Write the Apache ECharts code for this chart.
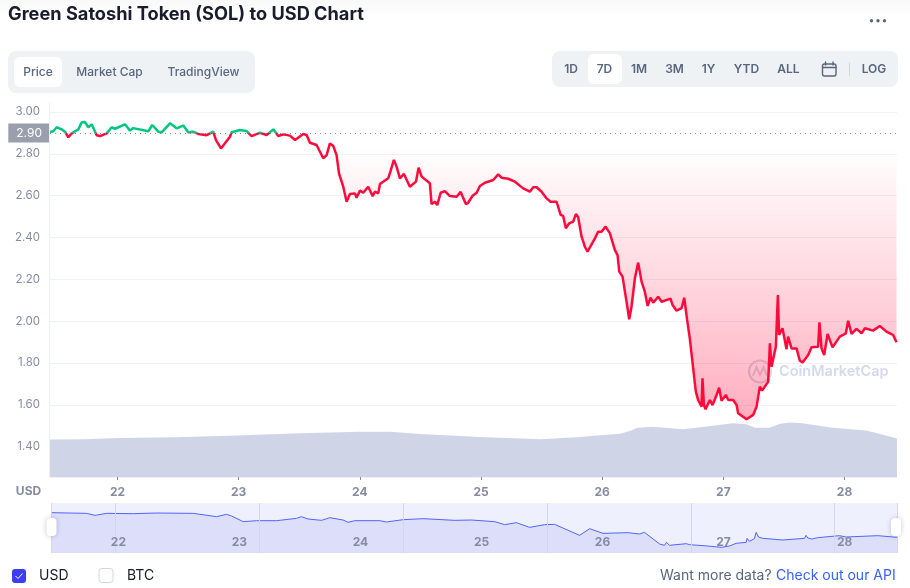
<!DOCTYPE html>
<html>
<head>
<meta charset="utf-8">
<title>Green Satoshi Token (SOL) to USD Chart</title>
<script src="https://cdn.jsdelivr.net/npm/echarts@6/dist/echarts.min.js"></script>
<style>
html, body { margin: 0; padding: 0; background: #fff; }
#main { width: 910px; height: 588px; }
</style>
</head>
<body>
<div id="main"></div>
<script>
// main line, day of month and price
var priceDays = [21.443,21.470,21.498,21.540,21.567,21.594,21.622,21.677,21.705,21.732,21.759,21.787,21.800,21.828,21.856,21.911,21.952,21.979,22.062,22.103,22.130,22.254,22.287,22.337,22.365,22.433,22.488,22.543,22.584,22.625,22.667,22.736,22.790,22.813,22.854,22.928,22.942,23.011,23.066,23.107,23.176,23.231,23.286,23.327,23.368,23.423,23.465,23.533,23.561,23.588,23.643,23.698,23.726,23.753,23.781,23.808,23.828,23.863,23.891,23.918,23.960,23.973,24.001,24.028,24.069,24.106,24.125,24.152,24.166,24.234,24.254,24.281,24.303,24.331,24.364,24.413,24.463,24.485,24.510,24.578,24.592,24.620,24.639,24.667,24.702,24.743,24.799,24.832,24.875,24.894,24.931,24.964,24.991,25.032,25.101,25.142,25.170,25.224,25.280,25.348,25.403,25.431,25.459,25.500,25.541,25.574,25.624,25.657,25.678,25.700,25.728,25.761,25.783,25.802,25.830,25.857,25.879,25.940,25.967,25.995,26.028,26.064,26.105,26.127,26.141,26.168,26.201,26.223,26.242,26.270,26.297,26.325,26.352,26.375,26.399,26.421,26.462,26.490,26.564,26.581,26.614,26.655,26.677,26.701,26.723,26.737,26.765,26.773,26.792,26.820,26.828,26.839,26.853,26.889,26.911,26.944,26.965,26.985,27.021,27.040,27.081,27.109,27.122,27.191,27.246,27.274,27.301,27.320,27.370,27.384,27.398,27.433,27.450,27.460,27.488,27.521,27.534,27.563,27.604,27.631,27.654,27.700,27.728,27.782,27.793,27.810,27.832,27.860,27.901,27.961,28.011,28.030,28.058,28.099,28.141,28.168,28.236,28.291,28.346,28.401,28.429];
var priceValues = [2.904,2.908,2.927,2.917,2.906,2.879,2.898,2.917,2.951,2.952,2.927,2.941,2.941,2.889,2.885,2.898,2.927,2.920,2.941,2.911,2.923,2.908,2.938,2.906,2.903,2.946,2.922,2.935,2.903,2.906,2.895,2.889,2.906,2.866,2.826,2.882,2.903,2.914,2.909,2.885,2.901,2.890,2.917,2.885,2.893,2.887,2.866,2.895,2.890,2.853,2.842,2.779,2.794,2.850,2.837,2.794,2.707,2.643,2.571,2.608,2.611,2.590,2.624,2.614,2.643,2.598,2.619,2.611,2.656,2.683,2.719,2.771,2.739,2.683,2.704,2.643,2.667,2.734,2.691,2.659,2.560,2.571,2.555,2.614,2.622,2.598,2.595,2.618,2.560,2.566,2.600,2.614,2.646,2.662,2.675,2.702,2.686,2.681,2.667,2.635,2.619,2.640,2.640,2.619,2.587,2.571,2.571,2.508,2.503,2.444,2.468,2.476,2.512,2.497,2.404,2.356,2.332,2.396,2.428,2.428,2.452,2.420,2.340,2.316,2.237,2.213,2.093,2.009,2.069,2.205,2.280,2.189,2.141,2.073,2.113,2.088,2.117,2.093,2.108,2.077,2.050,2.062,2.112,2.006,1.918,1.910,1.703,1.663,1.623,1.591,1.727,1.599,1.579,1.623,1.599,1.647,1.682,1.620,1.647,1.623,1.623,1.599,1.560,1.531,1.552,1.591,1.687,1.668,1.711,1.894,1.782,1.878,2.125,1.934,1.966,1.866,1.926,1.870,1.870,1.811,1.803,1.838,1.875,1.878,1.995,1.870,1.838,1.939,1.875,1.926,1.942,2.002,1.939,1.963,1.942,1.966,1.955,1.977,1.950,1.934,1.899];
// volume band, no scale on the picture so just relative units
var volumeDays = [21.443,21.73,22.02,22.47,22.93,23.22,23.51,24.00,24.25,24.50,24.99,25.49,25.82,25.98,26.15,26.24,26.29,26.42,26.67,26.81,27.08,27.19,27.26,27.38,27.47,27.55,27.65,27.90,28.18,28.31,28.433];
var volumeValues = [10.3,10.4,10.7,10.9,11.3,11.7,12.0,12.4,12.4,11.8,11.0,10.4,11.0,11.5,11.9,12.8,13.5,13.8,13.1,13.7,14.8,14.5,13.5,13.5,14.6,15.0,14.8,13.5,12.8,11.7,10.6];
// overview strip line, it runs on its own day scale
var miniDays = [21.553,21.801,21.859,21.940,22.125,22.287,22.542,22.704,22.773,22.808,22.889,22.981,23.120,23.259,23.294,23.340,23.433,23.491,23.583,23.618,23.664,23.838,23.884,24.000,24.139,24.359,24.475,24.637,24.706,24.787,24.880,24.984,25.053,25.227,25.297,25.389,25.563,25.644,25.678,25.783,25.817,25.831,25.852,25.968,25.991,26.118,26.211,26.269,26.315,26.385,26.391,26.408,26.442,26.454,26.470,26.500,26.639,26.790,26.801,26.813,26.840,26.882,27.033,27.079,27.299,27.433];
var miniValues = [2.926,2.898,2.817,2.898,2.885,2.912,2.898,2.763,2.858,2.790,2.560,2.600,2.600,2.695,2.763,2.668,2.614,2.722,2.627,2.533,2.600,2.600,2.546,2.641,2.682,2.614,2.627,2.560,2.438,2.519,2.329,2.438,2.451,2.004,2.275,2.085,2.113,2.058,2.126,1.652,1.598,1.720,1.598,1.665,1.625,1.571,1.516,1.571,1.679,1.720,1.882,1.760,1.869,2.126,1.936,1.882,1.814,1.882,2.004,1.896,1.855,1.909,1.991,1.936,1.991,1.923];
var dayTicks = [22,23,24,25,26,27,28];
var miniSeparators = [22,23,24,25,26,27];
var basePrice = 2.9;
var tabLabels = ['Price','Market Cap','TradingView'];
var rangeLabels = ['1D','7D','1M','3M','1Y','YTD','ALL','LOG'];

var FONT = 'Inter, "Noto Sans", sans-serif';
var GREY = '#858ca2';
var SLATE = '#58667e';
var BLUE = '#3861fb';

function txt(x, y, text, size, weight, color, align) {
	return {
		type: 'text', x: x, y: y, z: 10,
		style: { text: text, fontFamily: FONT, fontSize: size, fontWeight: weight, fill: color, align: align || 'center', verticalAlign: 'middle' }
	};
}
function box(x, y, w, h, r, fill) {
	return { type: 'rect', z: 1, shape: { x: x, y: y, width: w, height: h, r: r }, style: { fill: fill } };
}
function dot(x, y) {
	return { type: 'circle', z: 10, shape: { cx: x, cy: y, r: 1.7 }, style: { fill: SLATE } };
}
function seg(x1, y1, x2, y2, color, width) {
	return { type: 'line', z: 10, shape: { x1: x1, y1: y1, x2: x2, y2: y2 }, style: { stroke: color, lineWidth: width || 1, lineCap: 'round' } };
}
// little white drag handle of the overview strip
function handle(x) {
	return [
		{ type: 'rect', z: 20, shape: { x: x, y: 518, width: 10, height: 18, r: 4 }, style: { fill: '#fff', shadowBlur: 5, shadowColor: 'rgba(80,90,130,.35)' } },
		seg(x + 4, 524, x + 4, 530, '#b4b9c9'),
		seg(x + 6, 524, x + 6, 530, '#b4b9c9')
	];
}

var tabCenters = [38, 109.5, 203.5];
var rangeCenters = [571, 604.5, 639, 674.5, 708.5, 746.5, 788.5, 874];

var graphics = [
	{ type: 'rect', z: 0, shape: { x: 0, y: 0, width: 910, height: 15 }, style: { fill: new echarts.graphic.LinearGradient(0, 0, 0, 1, [{ offset: 0, color: '#f8f8f9' }, { offset: 1, color: '#fff' }]) } },
	txt(8, 15, 'Green Satoshi Token (SOL) to USD Chart', 18.2, 700, '#191d2b', 'left'),
	dot(871.5, 20.8), dot(878, 20.8), dot(884.5, 20.8),
	box(8, 51, 247, 42, 8, '#eff2f5'),
	box(14, 57, 48, 30, 6, '#fff'),
	box(552, 51, 346, 36, 8, '#eff2f5'),
	box(588, 54, 34, 30, 6, '#fff'),
	// calendar icon
	{ type: 'rect', z: 10, shape: { x: 822.5, y: 64, width: 13.5, height: 12, r: 2 }, style: { fill: 'none', stroke: SLATE, lineWidth: 1.4 } },
	seg(822.5, 67.5, 836, 67.5, SLATE, 1.4), seg(825.5, 62, 825.5, 65, SLATE, 1.4), seg(833, 62, 833, 65, SLATE, 1.4),
	seg(849.5, 63, 849.5, 76, '#cfd6e4'),
	// left axis rule runs the full height of the plot
	seg(49.5, 103, 49.5, 477, '#eff2f5'),
	txt(28.5, 491, 'USD', 12, 700, GREY),
	// watermark
	{ type: 'circle', z: 1, shape: { cx: 760, cy: 371.5, r: 11 }, style: { fill: 'none', stroke: '#d4daea', lineWidth: 2.2 } },
	{ type: 'polyline', z: 1, shape: { points: [[753, 376], [756.5, 367], [760, 375], [763.5, 367], [767, 376]] }, style: { fill: 'none', stroke: '#d4daea', lineWidth: 2 } },
	txt(779, 372, 'CoinMarketCap', 14.5, 600, '#d4daea', 'left'),
	// bottom row
	box(12, 569, 14, 14, 3, '#3d3df5'),
	{ type: 'polyline', z: 10, shape: { points: [[15.5, 576], [18, 578.5], [22.5, 573.5]] }, style: { fill: 'none', stroke: '#fff', lineWidth: 1 } },
	txt(39, 576, 'USD', 14, 400, '#191d2b', 'left'),
	{ type: 'rect', z: 1, shape: { x: 99, y: 568.5, width: 14, height: 14, r: 3 }, style: { fill: '#fff', stroke: '#cfd6e4' } },
	txt(127, 576, 'BTC', 14, 400, '#191d2b', 'left'),
	txt(660, 576, 'Want more data? ', 14, 400, SLATE, 'left'),
	txt(776, 576, 'Check out our API', 14, 400, BLUE, 'left')
];
tabLabels.forEach(function (t, i) {
	graphics.push(txt(tabCenters[i], 72, t, 12, 500, SLATE));
});
rangeLabels.forEach(function (t, i) {
	graphics.push(txt(rangeCenters[i], 69.8, t, 12, 600, SLATE));
});
graphics = graphics.concat(handle(46.5), handle(891));

function zip(a, b) {
	var out = [];
	for (var i = 0; i < a.length; i++) {
		out.push([a[i], b[i]]);
	}
	return out;
}

var xMin = 21.443;
var xMax = 28.433;

var option = {
	animation: false,
	backgroundColor: '#fff',
	textStyle: { fontFamily: FONT },
	graphic: graphics,
	grid: [
		{ left: 50, width: 847, top: 112, height: 334.7 },
		{ left: 50, width: 847, top: 404.2, height: 72.8 },
		{ left: 51, width: 846, top: 503, height: 50, show: true, backgroundColor: '#eff0fd', borderWidth: 0 }
	],
	xAxis: [
		{ type: 'value', gridIndex: 0, min: xMin, max: xMax, show: false },
		{
			type: 'value', gridIndex: 1, min: xMin, max: xMax,
			axisLine: { show: true, onZero: false, lineStyle: { color: '#eff2f5' } },
			axisTick: { show: true, customValues: dayTicks, length: 3, lineStyle: { color: GREY } },
			axisLabel: { customValues: dayTicks, color: GREY, fontSize: 12, fontWeight: 700, margin: 9, formatter: function (v) { return String(v); } },
			splitLine: { show: false }
		},
		{
			// labels sit on top of the overview area
			type: 'value', gridIndex: 2, min: xMin, max: xMax, z: 6,
			axisLine: { show: false },
			axisTick: { show: false },
			axisLabel: { customValues: dayTicks, inside: true, color: GREY, fontSize: 12, fontWeight: 700, margin: 5, formatter: function (v) { return String(v); } },
			splitLine: { show: false }
		},
		{
			type: 'value', gridIndex: 2, position: 'top', min: 21.553, max: 27.433, z: 6,
			axisLine: { show: false },
			axisTick: { show: false },
			axisLabel: { show: false },
			splitLine: { show: true, customValues: miniSeparators, lineStyle: { color: '#d3d5f2', width: 1 } }
		}
	],
	yAxis: [
		{
			type: 'value', gridIndex: 0, min: 1.4, max: 3, interval: 0.2,
			axisLine: { show: false },
			axisTick: { show: false },
			axisLabel: { color: GREY, fontSize: 11.5, margin: 10, formatter: function (v) { return v.toFixed(2); } },
			splitLine: { lineStyle: { color: '#eff2f5' } }
		},
		{ type: 'value', gridIndex: 1, min: 0, max: 20, show: false, splitLine: { show: false } },
		{ type: 'value', gridIndex: 2, min: 1.286, max: 3.319, show: false, splitLine: { show: false } }
	],
	visualMap: {
		show: false,
		seriesIndex: 1,
		dimension: 1,
		// both pieces closed, an open ended pair gives the line no colour stops
		pieces: [
			{ gt: basePrice, lte: 4, color: '#00c77f' },
			{ gt: 1, lte: basePrice, color: '#ff0a3c' }
		]
	},
	series: [
		{
			name: 'volume', type: 'line', xAxisIndex: 1, yAxisIndex: 1, z: 1,
			data: zip(volumeDays, volumeValues),
			showSymbol: false, silent: true,
			lineStyle: { width: 0 },
			areaStyle: { color: '#cfd5e6', opacity: 1 }
		},
		{
			name: 'price', type: 'line', xAxisIndex: 0, yAxisIndex: 0, z: 3,
			data: zip(priceDays, priceValues),
			showSymbol: false, silent: true,
			lineStyle: { width: 2.5 },
			areaStyle: {
				origin: basePrice,
				opacity: 1,
				color: new echarts.graphic.LinearGradient(0, 0, 0, 1, [
					{ offset: 0, color: 'rgba(255,10,60,0)' },
					{ offset: 0.08, color: 'rgba(255,10,60,0)' },
					{ offset: 1, color: 'rgba(255,10,60,0.33)' }
				])
			},
			markLine: {
				silent: true,
				symbol: 'none',
				lineStyle: { color: GREY, type: [1, 4], width: 1 },
				label: {
					position: 'start', distance: 0, formatter: '2.90',
					color: '#fff', fontSize: 12, backgroundColor: '#9a9fae',
					padding: [3, 8, 3, 8], lineHeight: 13
				},
				data: [{ yAxis: basePrice }]
			}
		},
		{
			name: 'overview', type: 'line', xAxisIndex: 3, yAxisIndex: 2, z: 2,
			data: zip(miniDays, miniValues),
			showSymbol: false, silent: true,
			lineStyle: { width: 1, color: '#4f66f7' },
			areaStyle: { color: '#dcdefa', opacity: 1 }
		}
	]
};

var myChart = echarts.init(document.getElementById('main'));
myChart.setOption(option);
</script>
</body>
</html>
